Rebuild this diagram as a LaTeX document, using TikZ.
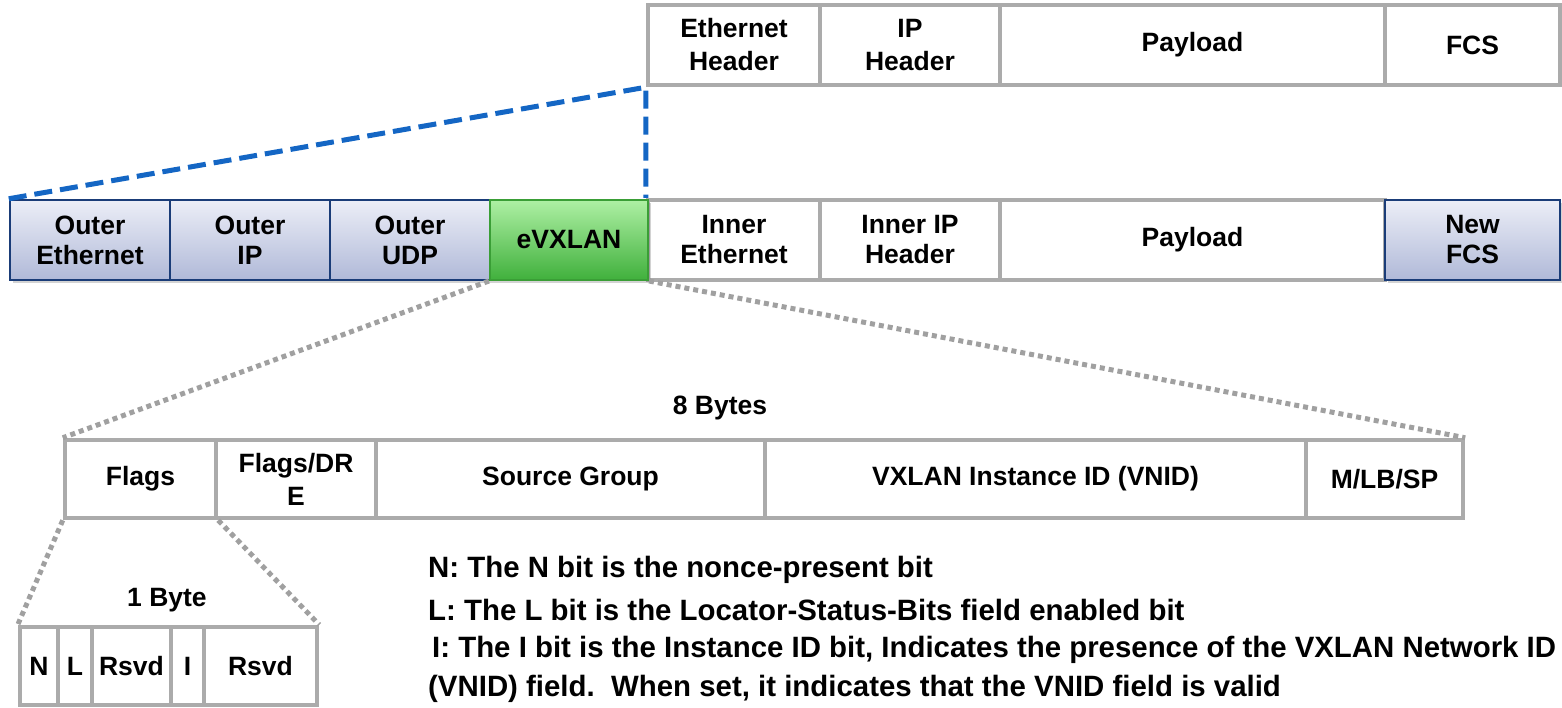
\documentclass[tikz,border=0pt]{standalone}
\usepackage{fontspec}
\setmainfont{Liberation Sans}
\usetikzlibrary{shadows}
\definecolor{fieldgray}{HTML}{ABABAB}
\definecolor{dotgray}{HTML}{A0A0A0}
\definecolor{outerline}{HTML}{1A3C78}
\definecolor{outertop}{HTML}{ECEEF7}
\definecolor{outerbottom}{HTML}{B0B9D8}
\definecolor{greenline}{HTML}{3A9E36}
\definecolor{greentop}{HTML}{AEF0A4}
\definecolor{greenbottom}{HTML}{40B03C}
\definecolor{linkblue}{HTML}{1466C4}
\begin{document}
\begin{tikzpicture}[x=1pt,y=-1pt]

\tikzset{field/.style = {draw=fieldgray, line width=4.5pt, fill=white, inner sep=0pt, align=center, font=\fontsize{26.5}{30}\selectfont\bfseries}}
\tikzset{tall/.style = {font=\fontsize{26.5}{33}\selectfont\bfseries}}
\tikzset{outer/.style = {field, draw=outerline, line width=2.5pt, top color=outertop, bottom color=outerbottom, drop shadow={shadow xshift=3pt, shadow yshift=-3pt, opacity=0.35}}}
\tikzset{evx/.style = {field, draw=greenline, line width=2pt, top color=greentop, bottom color=greenbottom, drop shadow={shadow xshift=3pt, shadow yshift=-3pt, opacity=0.35}}}
\tikzset{zoomline/.style = {dotgray, line width=5pt, dash pattern=on 5pt off 4pt}}
\tikzset{note/.style = {anchor=west, inner sep=0pt, align=left, font=\fontsize{29.4}{39}\selectfont\bfseries}}
\tikzset{caption/.style = {inner sep=0pt, font=\fontsize{26.5}{30}\selectfont\bfseries}}

\useasboundingbox (0,0) rectangle (1562,707);

% original frame
\node[field, tall, minimum width=172pt, minimum height=80pt] (ethhdr) at (734,45) {Ethernet\\Header};
\node[field, tall, minimum width=180pt, minimum height=80pt] (iphdr) at (910,45) {IP\\Header};
\node[field, minimum width=385pt, minimum height=80pt] (payload) at (1192.5,45) {Payload};
\node[field, minimum width=175pt, minimum height=80pt] (fcs) at (1472.5,45) {FCS};

% encapsulated frame
\node[field, minimum width=172pt, minimum height=80pt] (innereth) at (734,240) {Inner\\Ethernet};
\node[field, minimum width=180pt, minimum height=80pt] (innerip) at (910,240) {Inner IP\\Header};
\node[field, minimum width=385pt, minimum height=80pt] (innerpay) at (1192.5,240) {Payload};
\node[outer, minimum width=160pt, minimum height=80pt] (outereth) at (90,240) {Outer\\Ethernet};
\node[outer, minimum width=160pt, minimum height=80pt] (outerip) at (250,240) {Outer\\IP};
\node[outer, minimum width=160pt, minimum height=80pt] (outerudp) at (410,240) {Outer\\UDP};
\node[evx, minimum width=158pt, minimum height=80pt] (evxlan) at (569,240) {eVXLAN};
\node[outer, minimum width=175pt, minimum height=80pt] (newfcs) at (1472.5,240) {New\\FCS};

% eVXLAN header
\node[caption] (eightbytes) at (720,408) {8 Bytes};
\node[field, minimum width=151pt, minimum height=78pt] (flags) at (140.5,479) {Flags};
\node[field, tall, minimum width=160pt, minimum height=78pt] (flagsdre) at (296,479) {Flags/DR\\E};
\node[field, minimum width=389pt, minimum height=78pt] (srcgroup) at (570.5,479) {Source Group};
\node[field, minimum width=541pt, minimum height=78pt] (vnid) at (1035.5,479) {VXLAN Instance ID (VNID)};
\node[field, minimum width=157pt, minimum height=78pt] (mlbsp) at (1384.5,479) {M/LB/SP};

% flag bits
\node[caption] (onebyte) at (167,600) {1 Byte};
\node[field, minimum width=38pt, minimum height=78pt] (bitn) at (39,666) {N};
\node[field, minimum width=34pt, minimum height=78pt] (bitl) at (75,666) {L};
\node[field, minimum width=79pt, minimum height=78pt] (rsvda) at (131.5,666) {Rsvd};
\node[field, minimum width=33pt, minimum height=78pt] (biti) at (187.5,666) {I};
\node[field, minimum width=113pt, minimum height=78pt] (rsvdb) at (260.5,666) {Rsvd};

% notes
\node[note] (noten) at (428,570) {N: The N bit is the nonce-present bit};
\node[note] (notel) at (428,610) {L: The L bit is the Locator-Status-Bits field enabled bit};
\node[note] (notei) at (428,669) {\hspace{4pt}I: The I bit is the Instance ID bit, Indicates the presence of the VXLAN Network ID\\(VNID) field.\ \ When set, it indicates that the VNID field is valid};

%edges
\draw [linkblue, line width=5pt, dash pattern=on 18pt off 8pt] (outereth.north west) -- (ethhdr.south west) -- (innereth.north west);
\draw [zoomline] (evxlan.south west) -- (flags.north west);
\draw [zoomline] (evxlan.south east) -- (mlbsp.north east);
\draw [zoomline] (flags.south west) -- (bitn.north west);
\draw [zoomline] (flags.south east) -- (rsvdb.north east);
\end{tikzpicture}
\end{document}
